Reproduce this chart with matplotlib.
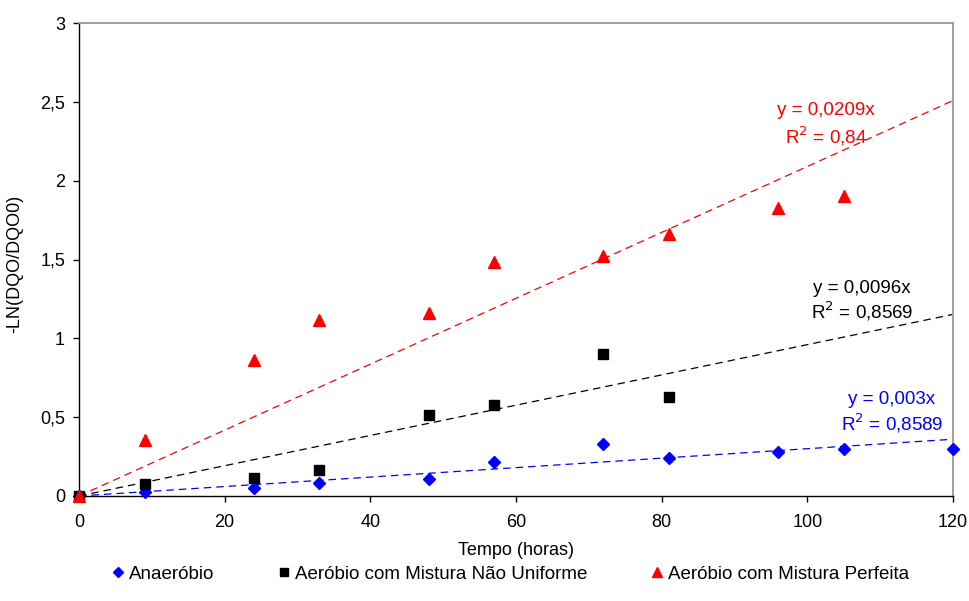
import matplotlib.pyplot as plt
import numpy as np

plt.rcParams["font.family"] = ["Liberation Sans", "DejaVu Sans"]

# tempo (horas) e -LN(DQO/DQO0) por condição
t_anaerobio = [0, 9, 24, 33, 48, 57, 72, 81, 96, 105, 120]
y_anaerobio = [0, 0.025, 0.05, 0.082, 0.108, 0.215, 0.33, 0.24, 0.28, 0.30, 0.30]

t_nao_uniforme = [0, 9, 24, 33, 48, 57, 72, 81]
y_nao_uniforme = [0, 0.076, 0.115, 0.165, 0.515, 0.58, 0.90, 0.63]

t_perfeita = [0, 9, 24, 33, 48, 57, 72, 81, 96, 105]
y_perfeita = [0, 0.355, 0.862, 1.115, 1.16, 1.485, 1.52, 1.66, 1.825, 1.90]

# tendências lineares pela origem
slopes = [0.003, 0.0096, 0.0209]
r2 = ["0,8589", "0,8569", "0,84"]
eq_labels = ["y = 0,003x", "y = 0,0096x", "y = 0,0209x"]
colors = ["#0000ff", "black", "#ff0000"]
x_ticks = [0, 20, 40, 60, 80, 100, 120]
y_ticks = [0, 0.5, 1, 1.5, 2, 2.5, 3]


def plot_cinetica():
    fig = plt.figure(figsize=(9.69, 6.01), dpi=100)
    ax = fig.add_axes([79 / 969, 105 / 601, 874 / 969, 473 / 601])

    t_fit = np.array([0, 120])
    for k, c in zip(slopes, colors):
        ax.plot(t_fit, k * t_fit, "--", color=c, lw=0.9, dashes=(6, 4), zorder=2)

    ax.plot(t_anaerobio, y_anaerobio, "D", color=colors[0], ms=6, ls="none",
            label="Anaeróbio", zorder=3, clip_on=False)
    ax.plot(t_nao_uniforme, y_nao_uniforme, "s", color=colors[1], ms=7.5, ls="none",
            label="Aeróbio com Mistura Não Uniforme", zorder=3, clip_on=False)
    ax.plot(t_perfeita, y_perfeita, "^", color=colors[2], ms=8.5, ls="none",
            label="Aeróbio com Mistura Perfeita", zorder=4, clip_on=False)

    # equações das tendências
    fs = 13.5
    ax.text(102.5, 2.444, eq_labels[2], color=colors[2], fontsize=fs, ha="center", va="center")
    ax.text(102.5, 2.279, r"R$^2$ = " + r2[2], color=colors[2], fontsize=fs, ha="center", va="center")
    ax.text(107.5, 1.319, eq_labels[1], color=colors[1], fontsize=fs, ha="center", va="center")
    ax.text(107.5, 1.169, r"R$^2$ = " + r2[1], color=colors[1], fontsize=fs, ha="center", va="center")
    ax.text(111.6, 0.615, eq_labels[0], color=colors[0], fontsize=fs, ha="center", va="center")
    ax.text(111.7, 0.461, r"R$^2$ = " + r2[0], color=colors[0], fontsize=fs, ha="center", va="center")

    ax.set_xlim(0, 120)
    ax.set_ylim(0, 3)
    ax.set_xticks(x_ticks)
    ax.set_yticks(y_ticks)
    ax.set_yticklabels([f"{v:g}".replace(".", ",") for v in y_ticks])
    ax.tick_params(direction="out", length=4, width=1, labelsize=13, colors="black")
    ax.tick_params(axis="x", pad=9)
    ax.tick_params(axis="y", pad=6)

    for side in ["top", "right"]:
        ax.spines[side].set_color("#999999")
        ax.spines[side].set_linewidth(1.3)
    for side in ["left", "bottom"]:
        ax.spines[side].set_color("black")
        ax.spines[side].set_linewidth(1.0)

    ax.set_xlabel("Tempo (horas)", fontsize=13, labelpad=8)
    ax.set_ylabel("-LN(DQO/DQO0)", fontsize=13)
    ax.yaxis.set_label_coords(-56 / 874, 0.49)

    fig.legend(loc="center", bbox_to_anchor=(0.525, 0.045), ncol=3, frameon=False,
               fontsize=13.5, handletextpad=0.1, columnspacing=3.2, handlelength=1.0,
               markerscale=0.8)

    fig.savefig("out.png", dpi=100)
    return fig, ax


if __name__ == "__main__":
    plot_cinetica()
